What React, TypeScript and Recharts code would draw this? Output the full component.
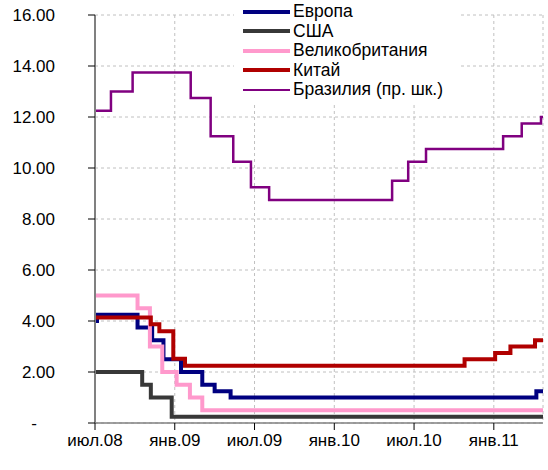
import React from 'react';
import { LineChart, Line, XAxis, YAxis, CartesianGrid, Legend } from 'recharts';

// Time axis: t = months counted from the "июл.08" tick.
const T_END = 33.7;

// Policy-rate change points per economy: [t, rate %]
const europe: [number, number][] = [
  [0, 4.0], [0.15, 4.25], [3.2, 3.75], [4.3, 3.25], [5.15, 2.5], [6.47, 2.0],
  [8.07, 1.5], [9.0, 1.25], [10.2, 1.0], [33.2, 1.25],
];
const usa: [number, number][] = [
  [0, 2.0], [3.55, 1.5], [4.2, 1.0], [5.77, 0.25],
];
const uk: [number, number][] = [
  [0, 5.0], [3.2, 4.5], [4.13, 3.0], [5.06, 2.0], [6.14, 1.5], [7.14, 1.0], [8.07, 0.5],
];
const china: [number, number][] = [
  [0, 4.14], [4.2, 3.87], [4.84, 3.6], [5.89, 2.52], [6.77, 2.25],
  [27.8, 2.5], [30.1, 2.75], [31.25, 3.0], [33.1, 3.25],
];
const brazil: [number, number][] = [
  [0, 12.25], [1.2, 13.0], [2.83, 13.75], [7.2, 12.75], [8.7, 11.25], [10.4, 10.25],
  [11.73, 9.25], [13.1, 8.75], [22.35, 9.5], [23.56, 10.25], [24.9, 10.75],
  [30.7, 11.25], [32.1, 11.75], [33.55, 12.0],
];

const xTicks = [0, 6, 12, 18, 24, 30];
const xTickLabels = ['июл.08', 'янв.09', 'июл.09', 'янв.10', 'июл.10', 'янв.11'];
const yTicks = [0, 2, 4, 6, 8, 10, 12, 14, 16];

const toSeries = (pts: [number, number][]) => {
  const rows = pts.map(([t, v]) => ({ t, v }));
  rows.push({ t: T_END, v: pts[pts.length - 1][1] });
  return rows;
};

const series = [
  { name: 'Европа', color: '#000080', width: 4, data: toSeries(europe) },
  { name: 'США', color: '#383838', width: 4, data: toSeries(usa) },
  { name: 'Великобритания', color: '#ff99cc', width: 4, data: toSeries(uk) },
  { name: 'Китай', color: '#b00000', width: 4, data: toSeries(china) },
  { name: 'Бразилия (пр. шк.)', color: '#800080', width: 2.5, data: toSeries(brazil) },
];

const FONT = '"Liberation Sans", Arial, sans-serif';

const YTick = (props: any) => {
  const { x, y, payload } = props;
  const v = payload.value as number;
  if (v === 0) {
    return (
      <text x={x - 21} y={y} dy="0.355em" textAnchor="middle" fontSize={17} fontFamily={FONT} fill="#000">
        -
      </text>
    );
  }
  return (
    <text x={x} y={y} dy="0.355em" textAnchor="end" fontSize={17} fontFamily={FONT} fill="#000">
      {v.toFixed(2)}
    </text>
  );
};

const LegendBox = () => (
  <div style={{ width: 224, height: 104, background: '#fff', position: 'relative', fontFamily: FONT }}>
    {series.map((s, i) => (
      <div key={s.name} style={{ position: 'absolute', left: 0, top: 2 + i * 19.5, height: 19.5, width: 224 }}>
        <div
          style={{
            position: 'absolute',
            left: 9,
            top: 9.75 - s.width / 2,
            width: 47,
            height: s.width,
            background: s.color,
          }}
        />
        <span
          style={{
            position: 'absolute',
            left: 59,
            top: 0,
            lineHeight: '19.5px',
            fontSize: 17.5,
            color: '#000',
            whiteSpace: 'nowrap',
          }}
        >
          {s.name}
        </span>
      </div>
    ))}
  </div>
);

export default function App() {
  return (
    <div style={{ position: 'absolute', left: 0, top: 0, width: 548, height: 470, background: '#fff' }}>
      <LineChart width={548} height={470} margin={{ top: 15, right: 5, bottom: 17, left: 0 }}>
        <CartesianGrid stroke="#c0c0c0" strokeDasharray="3 3" />
        <XAxis
          dataKey="t"
          type="number"
          domain={[0, T_END]}
          ticks={xTicks}
          allowDataOverflow
          height={30}
          tickSize={7}
          tickMargin={4}
          axisLine={{ stroke: '#808080', strokeWidth: 1.5 }}
          tickLine={{ stroke: '#000' }}
          tickFormatter={(v: number) => xTickLabels[xTicks.indexOf(v)] ?? ''}
          tick={{ fontSize: 17, fontFamily: FONT, fill: '#000' }}
        />
        <YAxis
          type="number"
          domain={[0, 16]}
          ticks={yTicks}
          width={95}
          tickSize={7}
          tickMargin={33}
          axisLine={{ stroke: '#808080', strokeWidth: 2 }}
          tickLine={{ stroke: '#000' }}
          tick={<YTick />}
        />
        {series.map((s) => (
          <Line
            key={s.name}
            data={s.data}
            dataKey="v"
            name={s.name}
            type="stepAfter"
            stroke={s.color}
            strokeWidth={s.width}
            dot={false}
            activeDot={false}
            isAnimationActive={false}
          />
        ))}
        <Legend
          layout="vertical"
          align="center"
          verticalAlign="middle"
          content={() => <LegendBox />}
          wrapperStyle={{ left: 234, top: 0, width: 224 }}
        />
      </LineChart>
    </div>
  );
}
